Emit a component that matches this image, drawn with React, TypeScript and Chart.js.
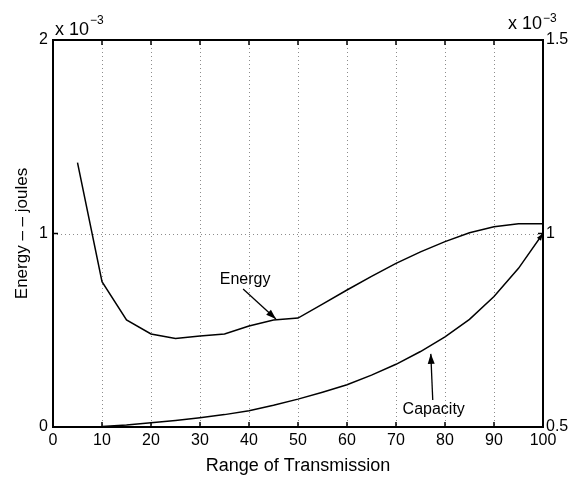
import React, { useEffect, useRef } from 'react';
import { Chart, registerables } from 'chart.js';

Chart.register(...registerables);

// ---- data (energy in 1e-3 J on left axis, capacity in 1e-3 on right axis) ----
const rangeValues = [5, 10, 15, 20, 25, 30, 35, 40, 45, 50, 55, 60, 65, 70, 75, 80, 85, 90, 95, 100];
const energyValues = [1.366, 0.751, 0.553, 0.481, 0.457, 0.47, 0.481, 0.522, 0.553, 0.563, 0.635, 0.708, 0.778, 0.846, 0.905, 0.958, 1.004, 1.035, 1.051, 1.051];
const capacityValues = [0.5003, 0.501, 0.505, 0.511, 0.517, 0.524, 0.532, 0.542, 0.556, 0.572, 0.59, 0.609, 0.634, 0.662, 0.695, 0.733, 0.778, 0.837, 0.91, 1.0];

const xTickValues = [0, 10, 20, 30, 40, 50, 60, 70, 80, 90, 100];
const energyTickValues = [0, 1, 2];
const capacityTickValues = [0.5, 1, 1.5];
const xGridValues = [10, 20, 30, 40, 50, 60, 70, 80, 90];
const energyGridValues = [1];

const xTitle = 'Range of Transmission';
const yTitle = 'Energy \u2013 \u2013 joules';
const exponentBase = 'x 10';
const exponentPower = '\u22123';

// annotations: [range, value]
const energyNoteText = 'Energy';
const energyNoteAt = [39.2, 0.76];
const energyArrowFrom = [38.8, 0.713];
const energyArrowTo = [45.5, 0.558];
const capacityNoteText = 'Capacity';
const capacityNoteAt = [77.7, 0.544];
const capacityArrowFrom = [77.5, 0.57];
const capacityArrowTo = [77.1, 0.689];

const FONT = '"Liberation Sans", Arial, Helvetica, sans-serif';

function arrowHead(ctx: CanvasRenderingContext2D, fx: number, fy: number, tx: number, ty: number, len: number, half: number) {
  const ang = Math.atan2(ty - fy, tx - fx);
  ctx.beginPath();
  ctx.moveTo(tx, ty);
  ctx.lineTo(tx - len * Math.cos(ang) + half * Math.sin(ang), ty - len * Math.sin(ang) - half * Math.cos(ang));
  ctx.lineTo(tx - len * Math.cos(ang) - half * Math.sin(ang), ty - len * Math.sin(ang) + half * Math.cos(ang));
  ctx.closePath();
  ctx.fill();
}

const decorPlugin = {
  id: 'decor',
  beforeDatasetsDraw(chart: any) {
    const { ctx, chartArea: a, scales } = chart;
    const x = scales.x;
    const y = scales.y;
    ctx.save();
    ctx.strokeStyle = '#8c8c8c';
    ctx.lineWidth = 1;
    ctx.setLineDash([1, 3]);
    xGridValues.forEach((v) => {
      const px = Math.round(x.getPixelForValue(v)) + 0.5;
      ctx.beginPath();
      ctx.moveTo(px, a.top);
      ctx.lineTo(px, a.bottom);
      ctx.stroke();
    });
    energyGridValues.forEach((v) => {
      const py = Math.round(y.getPixelForValue(v)) + 0.5;
      ctx.beginPath();
      ctx.moveTo(a.left, py);
      ctx.lineTo(a.right, py);
      ctx.stroke();
    });
    ctx.restore();
  },
  afterDatasetsDraw(chart: any) {
    const { ctx, chartArea: a, scales } = chart;
    const x = scales.x;
    const y = scales.y;
    const y1 = scales.y1;
    ctx.save();
    ctx.setLineDash([]);
    ctx.strokeStyle = '#000';
    ctx.fillStyle = '#000';
    // box
    ctx.lineWidth = 2;
    ctx.strokeRect(a.left, a.top, a.right - a.left, a.bottom - a.top);
    // inward ticks
    ctx.lineWidth = 1.5;
    const tl = 5;
    xTickValues.forEach((v) => {
      const px = x.getPixelForValue(v);
      ctx.beginPath();
      ctx.moveTo(px, a.bottom);
      ctx.lineTo(px, a.bottom - tl);
      ctx.moveTo(px, a.top);
      ctx.lineTo(px, a.top + tl);
      ctx.stroke();
    });
    energyTickValues.forEach((v) => {
      const py = y.getPixelForValue(v);
      ctx.beginPath();
      ctx.moveTo(a.left, py);
      ctx.lineTo(a.left + tl, py);
      ctx.stroke();
    });
    capacityTickValues.forEach((v) => {
      const py = y1.getPixelForValue(v);
      ctx.beginPath();
      ctx.moveTo(a.right, py);
      ctx.lineTo(a.right - tl, py);
      ctx.stroke();
    });
    // exponent labels
    ctx.textAlign = 'left';
    ctx.textBaseline = 'alphabetic';
    ctx.font = `18px ${FONT}`;
    const baseW = ctx.measureText(exponentBase).width;
    ctx.fillText(exponentBase, a.left + 2, a.top - 5);
    ctx.fillText(exponentBase, a.right - 35, a.top - 11);
    ctx.font = `12px ${FONT}`;
    ctx.fillText(exponentPower, a.left + 2 + baseW + 1, a.top - 16);
    ctx.fillText(exponentPower, a.right - 35 + baseW + 1, a.top - 18);

    // annotations
    ctx.font = `16px ${FONT}`;
    ctx.textAlign = 'center';
    ctx.textBaseline = 'middle';
    ctx.fillText(energyNoteText, x.getPixelForValue(energyNoteAt[0]), y.getPixelForValue(energyNoteAt[1]));
    ctx.fillText(capacityNoteText, x.getPixelForValue(capacityNoteAt[0]), y1.getPixelForValue(capacityNoteAt[1]));

    ctx.lineWidth = 1.3;
    const ef = [x.getPixelForValue(energyArrowFrom[0]), y.getPixelForValue(energyArrowFrom[1])];
    const et = [x.getPixelForValue(energyArrowTo[0]), y.getPixelForValue(energyArrowTo[1])];
    ctx.beginPath();
    ctx.moveTo(ef[0], ef[1]);
    ctx.lineTo(et[0], et[1]);
    ctx.stroke();
    arrowHead(ctx, ef[0], ef[1], et[0], et[1], 10, 3.5);

    const cf = [x.getPixelForValue(capacityArrowFrom[0]), y1.getPixelForValue(capacityArrowFrom[1])];
    const ct = [x.getPixelForValue(capacityArrowTo[0]), y1.getPixelForValue(capacityArrowTo[1])];
    ctx.beginPath();
    ctx.moveTo(cf[0], cf[1]);
    ctx.lineTo(ct[0], ct[1]);
    ctx.stroke();
    arrowHead(ctx, cf[0], cf[1], ct[0], ct[1], 10, 3.5);

    // small arrowhead at capacity end
    const n = rangeValues.length;
    const px0 = x.getPixelForValue(rangeValues[n - 2]);
    const py0 = y1.getPixelForValue(capacityValues[n - 2]);
    const px1 = x.getPixelForValue(rangeValues[n - 1]);
    const py1 = y1.getPixelForValue(capacityValues[n - 1]);
    arrowHead(ctx, px0, py0, px1, py1, 7, 2.5);
    ctx.restore();
  },
};

export default function App() {
  const ref = useRef<HTMLCanvasElement | null>(null);
  useEffect(() => {
    if (!ref.current) return;
    const tickFont = { family: FONT, size: 16 };
    const chart = new Chart(ref.current, {
      type: 'line',
      data: {
        datasets: [
          {
            label: 'Energy',
            data: rangeValues.map((r, i) => ({ x: r, y: energyValues[i] })),
            yAxisID: 'y',
            borderColor: '#000',
            borderWidth: 1.5,
            pointRadius: 0,
            tension: 0,
            fill: false,
          },
          {
            label: 'Capacity',
            data: rangeValues.map((r, i) => ({ x: r, y: capacityValues[i] })),
            yAxisID: 'y1',
            borderColor: '#000',
            borderWidth: 1.5,
            pointRadius: 0,
            tension: 0,
            fill: false,
          },
        ],
      },
      options: {
        animation: false,
        responsive: false,
        devicePixelRatio: 1,
        layout: { padding: { top: 40, left: 0, right: 0, bottom: 0 } },
        plugins: { legend: { display: false }, tooltip: { enabled: false } },
        scales: {
          x: {
            type: 'linear',
            min: 0,
            max: 100,
            afterBuildTicks: (s: any) => {
              s.ticks = xTickValues.map((v) => ({ value: v }));
            },
            afterFit: (s: any) => {
              s.height = 50;
            },
            grid: { display: false, drawTicks: false },
            border: { display: false },
            ticks: { color: '#000', font: tickFont, padding: 4, maxRotation: 0, autoSkip: false, callback: (v: any) => String(v) },
            title: { display: true, text: xTitle, color: '#000', font: { family: FONT, size: 18 }, padding: { top: 0, bottom: 0 } },
          },
          y: {
            type: 'linear',
            position: 'left',
            min: 0,
            max: 2,
            afterBuildTicks: (s: any) => {
              s.ticks = energyTickValues.map((v) => ({ value: v }));
            },
            afterFit: (s: any) => {
              s.width = 53;
            },
            grid: { display: false, drawTicks: false },
            border: { display: false },
            ticks: { color: '#000', font: tickFont, padding: 5, callback: (v: any) => String(v) },
            title: { display: true, text: yTitle, color: '#000', font: { family: FONT, size: 17 }, padding: { top: 12, bottom: 0 } },
          },
          y1: {
            type: 'linear',
            position: 'right',
            min: 0.5,
            max: 1.5,
            afterBuildTicks: (s: any) => {
              s.ticks = capacityTickValues.map((v) => ({ value: v }));
            },
            afterFit: (s: any) => {
              s.width = 37;
            },
            grid: { display: false, drawTicks: false },
            border: { display: false },
            ticks: { color: '#000', font: tickFont, padding: 3, callback: (v: any) => String(v) },
          },
        },
      },
      plugins: [decorPlugin],
    } as any);
    return () => chart.destroy();
  }, []);
  return (
    <div style={{ position: 'absolute', left: 0, top: 0, width: 580, height: 477, background: '#fff' }}>
      <canvas ref={ref} width={580} height={477} style={{ width: 580, height: 477 }} />
    </div>
  );
}
